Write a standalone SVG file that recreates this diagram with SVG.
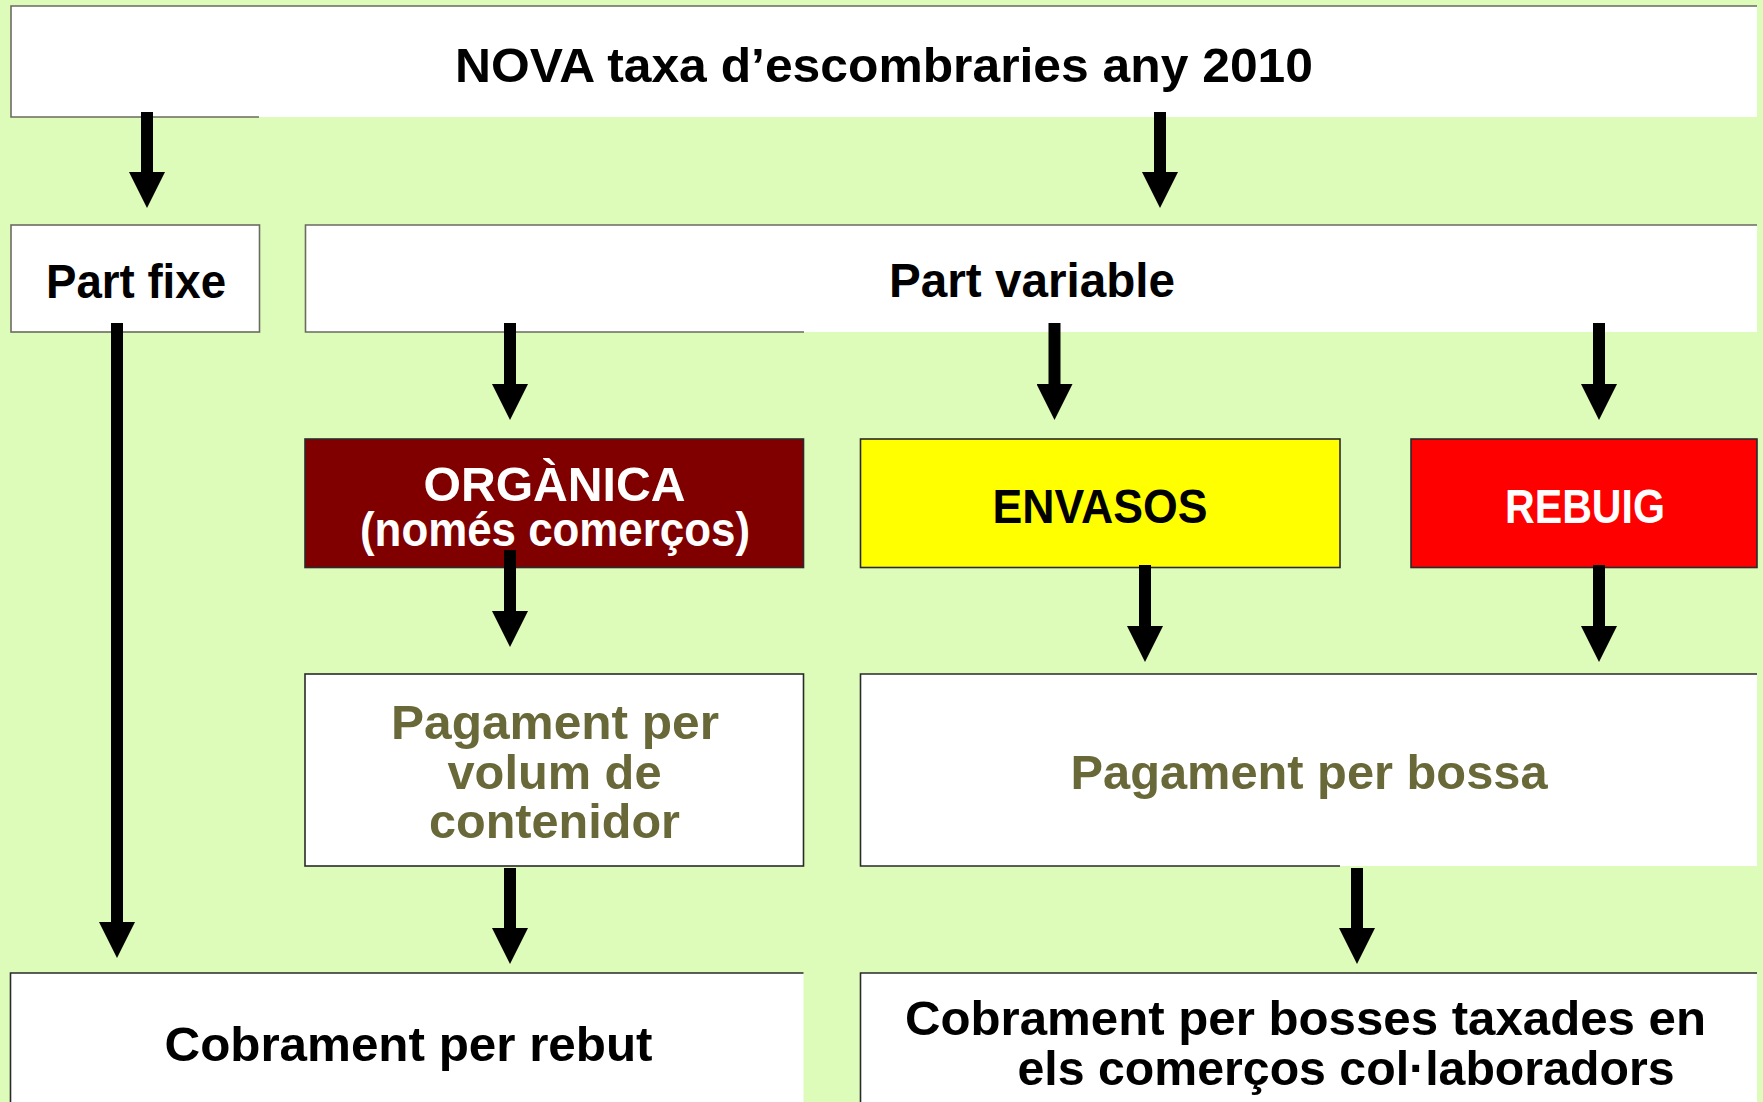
<svg xmlns="http://www.w3.org/2000/svg" width="1763" height="1102" viewBox="0 0 1763 1102">
  <defs>
    <marker id="ah" markerUnits="userSpaceOnUse" markerWidth="36" markerHeight="36" viewBox="0 0 36 36" refX="0" refY="18" orient="auto">
      <path d="M0,0 L36,18 L0,36 Z" fill="#000"/>
    </marker>
    <style>
      .bg { fill: #ddfbb9; }
      .fillw { fill: #ffffff; stroke: none; }
      .edge1 { fill: none; stroke: #6b6b60; stroke-width: 1.6; }
      .edge2 { fill: none; stroke: #2a2a2a; stroke-width: 1.6; }
      .t { font-family: "Liberation Sans", Arial, sans-serif; font-weight: bold; font-size: 48px; text-anchor: middle; }
      .blk { fill: #000; }
      .wht { fill: #fff; }
      .olv { fill: #686838; }
      .conn line { stroke: #000; stroke-width: 12; marker-end: url(#ah); }
    </style>
  </defs>
  <rect class="bg" x="0" y="0" width="1763" height="1102"/>

  <g id="node-title">
    <rect class="fillw" x="11" y="6" width="1746" height="111"/>
    <path class="edge1" d="M1757,6 H11 V117 H259"/>
    <text class="t blk" x="884" y="82" textLength="858" lengthAdjust="spacingAndGlyphs">NOVA taxa d’escombraries any 2010</text>
  </g>

  <g id="node-part-fixe">
    <rect class="fillw" x="11" y="225" width="248.5" height="107"/>
    <rect class="edge1" x="11" y="225" width="248.5" height="107"/>
    <text class="t blk" x="136" y="298" textLength="180" lengthAdjust="spacingAndGlyphs">Part fixe</text>
  </g>

  <g id="node-part-variable">
    <rect class="fillw" x="305.5" y="225" width="1451.5" height="107"/>
    <path class="edge1" d="M1757,225 H305.5 V332 H804"/>
    <text class="t blk" x="1032" y="297" textLength="286" lengthAdjust="spacingAndGlyphs">Part variable</text>
  </g>

  <g id="node-organica">
    <rect x="305" y="439" width="498.5" height="128.5" fill="#800000" stroke="#2a2a2a" stroke-width="1.6"/>
    <text class="t wht" x="554.5" y="501" textLength="262" lengthAdjust="spacingAndGlyphs">ORGÀNICA</text>
    <text class="t wht" x="555" y="546" textLength="390" lengthAdjust="spacingAndGlyphs">(només comerços)</text>
  </g>

  <g id="node-envasos">
    <rect x="860.5" y="439" width="479.5" height="128.5" fill="#ffff00" stroke="#2a2a2a" stroke-width="1.6"/>
    <text class="t blk" x="1100" y="523" textLength="215" lengthAdjust="spacingAndGlyphs">ENVASOS</text>
  </g>

  <g id="node-rebuig">
    <rect x="1411" y="439" width="346" height="128.5" fill="#ff0000" stroke="#2a2a2a" stroke-width="1.6"/>
    <text class="t wht" x="1585" y="523" textLength="160" lengthAdjust="spacingAndGlyphs">REBUIG</text>
  </g>

  <g id="node-pagament-volum">
    <rect class="fillw" x="305" y="674" width="498.5" height="192"/>
    <rect class="edge2" x="305" y="674" width="498.5" height="192"/>
    <text class="t olv" x="555" y="739" textLength="328" lengthAdjust="spacingAndGlyphs">Pagament per</text>
    <text class="t olv" x="554.5" y="789" textLength="214" lengthAdjust="spacingAndGlyphs">volum de</text>
    <text class="t olv" x="554.5" y="838" textLength="251" lengthAdjust="spacingAndGlyphs">contenidor</text>
  </g>

  <g id="node-pagament-bossa">
    <rect class="fillw" x="860.5" y="674" width="896.5" height="192"/>
    <path class="edge2" d="M1757,674 H860.5 V866 H1340"/>
    <text class="t olv" x="1309" y="789" textLength="477" lengthAdjust="spacingAndGlyphs">Pagament per bossa</text>
  </g>

  <g id="node-cobrament-rebut">
    <rect class="fillw" x="10.5" y="973" width="793" height="140"/>
    <path class="edge2" d="M803.5,973 H10.5 V1110"/>
    <text class="t blk" x="408.5" y="1061" textLength="488" lengthAdjust="spacingAndGlyphs">Cobrament per rebut</text>
  </g>

  <g id="node-cobrament-bosses">
    <rect class="fillw" x="860.5" y="973" width="896.5" height="140"/>
    <path class="edge2" d="M1757,973 H860.5 V1110"/>
    <text class="t blk" x="1305.5" y="1035" textLength="801" lengthAdjust="spacingAndGlyphs">Cobrament per bosses taxades en</text>
    <text class="t blk" x="1346" y="1085" textLength="657" lengthAdjust="spacingAndGlyphs">els comerços col·laboradors</text>
  </g>

  <g id="connectors" class="conn">
    <line x1="147" y1="112" x2="147" y2="172"/>
    <line x1="1160" y1="112" x2="1160" y2="172"/>
    <line x1="117" y1="323" x2="117" y2="922"/>
    <line x1="510" y1="323" x2="510" y2="384"/>
    <line x1="1054.5" y1="323" x2="1054.5" y2="384"/>
    <line x1="1599" y1="323" x2="1599" y2="384"/>
    <line x1="510" y1="550" x2="510" y2="611"/>
    <line x1="1145" y1="565" x2="1145" y2="626"/>
    <line x1="1599" y1="565" x2="1599" y2="626"/>
    <line x1="510" y1="868" x2="510" y2="928"/>
    <line x1="1357" y1="868" x2="1357" y2="928"/>
  </g>
</svg>
